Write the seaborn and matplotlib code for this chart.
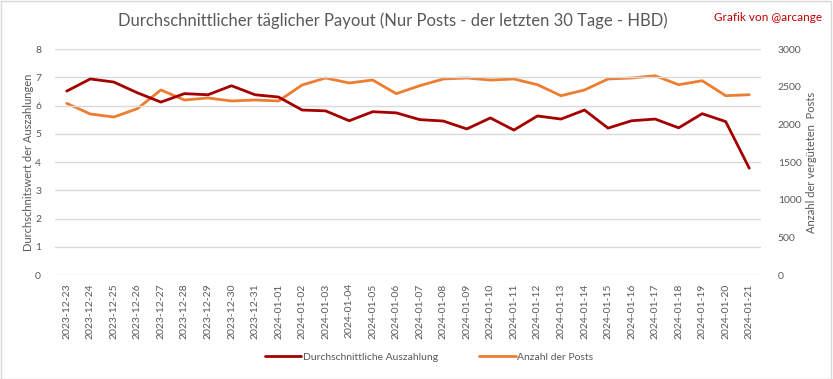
import matplotlib.pyplot as plt
import pandas as pd
import seaborn as sns

# Data
dates = pd.date_range('2023-12-23', '2024-01-21').strftime('%Y-%m-%d').tolist()
avg_payout = [6.51, 6.94, 6.83, 6.45, 6.12, 6.42, 6.38, 6.70, 6.38, 6.30,
              5.84, 5.81, 5.46, 5.78, 5.74, 5.50, 5.45, 5.17, 5.56, 5.13,
              5.63, 5.52, 5.84, 5.20, 5.46, 5.52, 5.21, 5.71, 5.43, 3.78]
post_count = [2279, 2137, 2097, 2208, 2456, 2323, 2350, 2310, 2323, 2310,
              2522, 2615, 2549, 2588, 2407, 2513, 2602, 2615, 2588, 2602,
              2526, 2380, 2456, 2602, 2615, 2645, 2526, 2579, 2380, 2393]

df = pd.DataFrame({'date': dates, 'payout': avg_payout, 'posts': post_count})

sns.set_style('white')
plt.rcParams['font.family'] = ['Lato', 'DejaVu Sans']

text_color = '#595959'
red = '#A50000'
orange = '#ED7D31'

fig = plt.figure(figsize=(8.33, 3.79), dpi=100)
ax = fig.add_axes([0.066, 0.2744, 0.8476, 0.5963])
ax2 = ax.twinx()

sns.lineplot(data=df, x='date', y='payout', ax=ax, color=red, linewidth=2,
             label='Durchschnittliche Auszahlung', legend=False, sort=False)
sns.lineplot(data=df, x='date', y='posts', ax=ax2, color=orange, linewidth=2,
             label='Anzahl der Posts', legend=False, sort=False)
ax.set_zorder(ax2.get_zorder() + 1)
ax.patch.set_visible(False)

ax.set_xlim(-0.5, len(dates) - 0.5)
ax.set_ylim(0, 8)
ax2.set_ylim(0, 3000)
ax.set_yticks(range(0, 9))
ax2.set_yticks(range(0, 3001, 500))

ax.grid(axis='y', color='#D9D9D9', linewidth=1)
ax.set_axisbelow(True)
for a in (ax, ax2):
    for s in a.spines.values():
        s.set_visible(False)
    a.tick_params(length=0, labelsize=7.5, colors=text_color)
ax.tick_params(axis='x', rotation=90, pad=6)
ax.tick_params(axis='y', pad=10)
ax2.tick_params(axis='y', pad=12)

ax.set_xlabel('')
ax.set_ylabel('Durchschnitswert der Auszahlungen', fontsize=8, color=text_color, labelpad=1)
ax2.set_ylabel('Anzahl der vergüteten  Posts', fontsize=8, color=text_color, labelpad=3)

fig.text(0.472, 0.945, 'Durchschnittlicher täglicher Payout (Nur Posts - der letzten 30 Tage - HBD)',
         ha='center', va='center', fontsize=12, color=text_color)
fig.text(0.987, 0.955, 'Grafik von @arcange', ha='right', va='center', fontsize=8.5, color='#C00000')

h1, l1 = ax.get_legend_handles_labels()
h2, l2 = ax2.get_legend_handles_labels()
fig.legend(h1 + h2, l1 + l2, loc='center', bbox_to_anchor=(0.515, 0.058), ncol=2,
           frameon=False, fontsize=7.5, labelcolor=text_color, handlelength=3.5,
           handletextpad=0.1, columnspacing=4)

fig.patches.append(plt.Rectangle((0.001, 0.001), 0.997, 0.997, transform=fig.transFigure,
                                 fill=False, edgecolor='#D9D9D9', linewidth=1))

fig.savefig('out.png', dpi=100)
